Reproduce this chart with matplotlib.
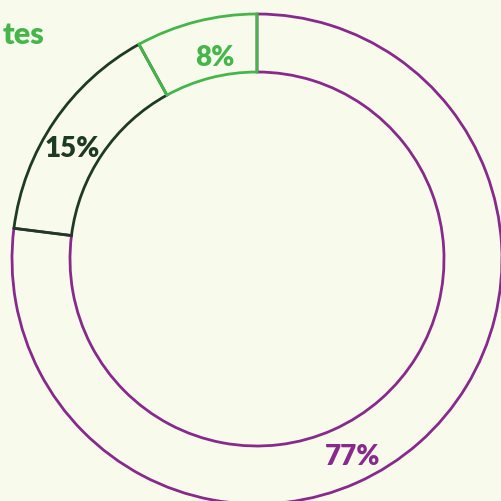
"""Outlined donut chart of vote shares, cropped like the reference."""
import numpy as np
import matplotlib.pyplot as plt

BG = "#f8fbec"

shares = [77, 15, 8]
labels = ["77%", "15%", "8%"]
colors = ["#882a8c", "#1f3a22", "#46b64c"]
title = "tes"

fig = plt.figure(figsize=(5.02, 5.02), dpi=100)
fig.patch.set_facecolor(BG)
ax = fig.add_axes([0, 0, 1, 1])
ax.set_facecolor(BG)

cx, cy, r_out, ring = 257, 242, 245, 58
wedges, _ = ax.pie(
    shares,
    startangle=90,
    counterclock=False,
    center=(cx, cy),
    radius=r_out,
    wedgeprops=dict(width=ring, fill=False, linewidth=2.0),
)
for w, c in zip(wedges, colors):
    w.set_edgecolor(c)

# label placement (angle deg, radius px) tuned to the reference
label_pos = {"77%": (-64, 219), "15%": (149, 215), "8%": (101.7, 206)}
for lab, c in zip(labels, colors):
    ang, rr = label_pos[lab]
    x = cx + rr * np.cos(np.radians(ang))
    y = cy + rr * np.sin(np.radians(ang))
    ax.text(x, y, lab, color=c, fontsize=20, fontweight="heavy",
            family=["Lato", "DejaVu Sans"], ha="center", va="center")

ax.text(44, 458, title, color=colors[2], fontsize=22, fontweight="heavy",
        family=["Lato", "DejaVu Sans"], ha="right", va="baseline")

ax.set_xlim(0, 502)
ax.set_ylim(0, 502)
ax.set_aspect("equal")
ax.axis("off")

fig.savefig("out.png", dpi=100, facecolor=BG)
